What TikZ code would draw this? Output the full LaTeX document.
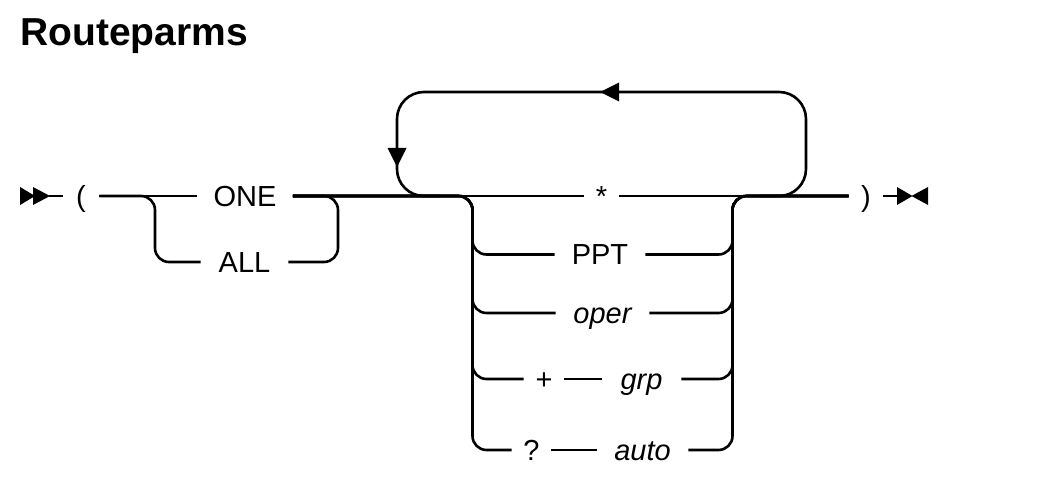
\documentclass[tikz,border=0pt]{standalone}
\usepackage{fontspec}
\setmainfont{Liberation Sans}
\begin{document}
\begin{tikzpicture}[x=1pt,y=-1pt,
  line width=2.6pt,
  lbl/.style={inner xsep=0pt,inner ysep=0pt,text height=20.6pt,text depth=0pt,
    font=\fontsize{29}{34}\selectfont},
  rc/.style={rounded corners=14pt},
  rcl/.style={rounded corners=27pt},
  tri/.style={fill=black,draw=none}]
\useasboundingbox (0,0) rectangle (1058,492);
% title
\node[anchor=base west,inner sep=0pt,font=\fontsize{39}{45}\selectfont\bfseries] (title) at (19,46) {Routeparms};
% start symbol
\fill[tri] (20,187) -- (35,196) -- (20,205) -- cycle;
\fill[tri] (33,187) -- (50,196) -- (33,205) -- cycle;
\coordinate (start) at (49,196);
% labels
\node[lbl,minimum width=34pt] (lp) at (81,196) {(};
\node[lbl,minimum width=93pt] (one) at (245,196) {ONE};
\node[lbl,minimum width=85pt] (all) at (244.5,262) {ALL};
\node[lbl,minimum width=33pt] (star) at (601.5,196) {*};
\node[lbl,minimum width=88pt] (ppt) at (600,254.5) {PPT};
\node[lbl,minimum width=91pt] (oper) at (602.5,313) {\itshape oper};
\node[lbl,minimum width=38pt] (plus) at (544,379) {+};
\node[lbl,minimum width=77pt] (grp) at (641.5,379) {\itshape grp};
\node[lbl,minimum width=37pt] (qm) at (531.5,450) {?};
\node[lbl,minimum width=89pt] (auto) at (642.5,450) {\itshape auto};
\node[lbl,minimum width=32pt] (rp) at (866,196) {)};
% end symbol
\coordinate (endp) at (898,196);
\fill[tri] (897,187) -- (912.5,196) -- (897,205) -- cycle;
\fill[tri] (928,187) -- (911.5,196) -- (928,205) -- cycle;
% main line
\draw (start) -- (lp.west);
\draw (lp.east) -- (one.west);
\draw (one.east) -- (star.west);
\draw (star.east) -- (rp.west);
\draw (rp.east) -- (endp);
% ONE / ALL choice
\draw[rc] (lp.east) -- (155,196) -- (155,262) -- (all.west);
\draw[rc] (all.east) -- (338,262) -- (338,196) -- (one.east);
% repeat loop
\draw[rcl] (760,196) -- (806,196) -- (806,92) -- (397,92) -- (397,196) -- (440,196);
\fill[tri] (600,92) -- (619,82.5) -- (619,101.5) -- cycle;
\fill[tri] (397,167) -- (387.5,148) -- (406.5,148) -- cycle;
% choice column left
\draw[rc] (one.east) -- (472.5,196) -- (472.5,254.5) -- (ppt.west);
\draw[rc] (one.east) -- (472.5,196) -- (472.5,313) -- (oper.west);
\draw[rc] (one.east) -- (472.5,196) -- (472.5,379) -- (plus.west);
\draw[rc] (one.east) -- (472.5,196) -- (472.5,450) -- (qm.west);
% choice column right
\draw[rc] (ppt.east) -- (732.5,254.5) -- (732.5,196) -- (rp.west);
\draw[rc] (oper.east) -- (732.5,313) -- (732.5,196) -- (rp.west);
\draw[rc] (grp.east) -- (732.5,379) -- (732.5,196) -- (rp.west);
\draw[rc] (auto.east) -- (732.5,450) -- (732.5,196) -- (rp.west);
% sequences
\draw (plus.east) -- (grp.west);
\draw (qm.east) -- (auto.west);
\end{tikzpicture}
\end{document}
